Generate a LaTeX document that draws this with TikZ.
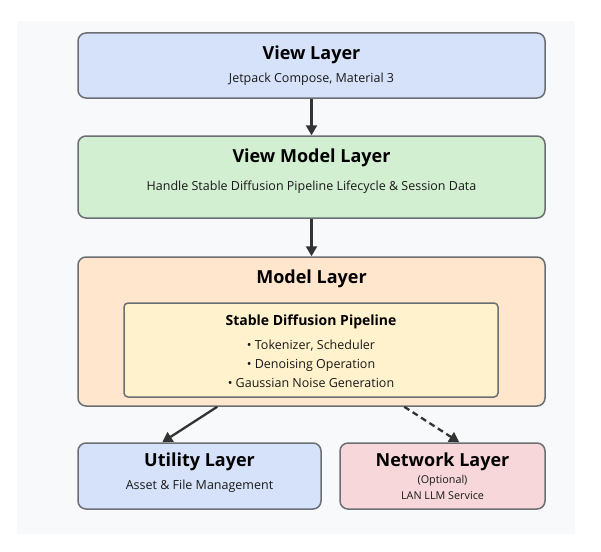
\documentclass[tikz,border=0pt]{standalone}
\usepackage{fontspec}
\setmainfont{Open Sans}
\usetikzlibrary{arrows.meta,calc}
\definecolor{bgc}{HTML}{F8F9FA}
\definecolor{bordc}{HTML}{6B6F73}
\definecolor{bluec}{HTML}{D6E2FA}
\definecolor{greenc}{HTML}{D2EFD2}
\definecolor{orangec}{HTML}{FFE6CC}
\definecolor{yellowc}{HTML}{FFF2CC}
\definecolor{redc}{HTML}{F8D7DA}
\definecolor{arrc}{HTML}{333333}
\tikzset{
  layerbox/.style={draw=bordc, line width=1.5pt, rounded corners=8pt, inner sep=0pt},
  innerbox/.style={draw=bordc, line width=1.5pt, rounded corners=4pt, inner sep=0pt},
  titletxt/.style={font=\fontsize{18}{21}\selectfont\bfseries, inner sep=0pt, text=black},
  subtitletxt/.style={font=\fontsize{14}{17}\selectfont\bfseries, inner sep=0pt, text=black},
  subtxt/.style={font=\fontsize{12.5}{15}\selectfont, inner sep=0pt, text=black!90},
  smalltxt/.style={font=\fontsize{10.8}{13}\selectfont, inner sep=0pt, text=black!90},
  conn/.style={draw=arrc, line width=2.3pt, -{Triangle[length=10pt,width=11pt]}},
  dconn/.style={conn, dash pattern=on 6pt off 4pt}
}
\begin{document}
\begin{tikzpicture}[x=1pt,y=-1pt]
\useasboundingbox (0,0) rectangle (601,551);
\fill[white] (0,0) rectangle (601,551);
\fill[bgc] (17,21) rectangle (575,534);
% boxes
\node[layerbox, fill=bluec, minimum width=467pt, minimum height=65pt] (view) at (311.5,65.5) {};
\node[layerbox, fill=greenc, minimum width=467pt, minimum height=82pt] (vm) at (311.5,177) {};
\node[layerbox, fill=orangec, minimum width=467pt, minimum height=149pt] (model) at (311.5,331.5) {};
\node[innerbox, fill=yellowc, minimum width=374pt, minimum height=94pt] (sdp) at (311,350) {};
\node[layerbox, fill=bluec, minimum width=243pt, minimum height=66pt] (util) at (199.5,476) {};
\node[layerbox, fill=redc, minimum width=205pt, minimum height=66pt] (net) at (442.5,476) {};
% texts
\node[titletxt] (viewt) at (311.5,55) {View Layer};
\node[subtxt] (views) at (311.5,79) {Jetpack Compose, Material 3};
\node[titletxt] (vmt) at (311.5,158) {View Model Layer};
\node[subtxt] (vms) at (311.5,187) {Handle Stable Diffusion Pipeline Lifecycle \& Session Data};
\node[titletxt] (modelt) at (311.5,279) {Model Layer};
\node[subtitletxt] (sdpt) at (311,322) {Stable Diffusion Pipeline};
\node[subtxt] (b1) at (311,346) {• Tokenizer, Scheduler};
\node[subtxt] (b2) at (311,365) {• Denoising Operation};
\node[subtxt] (b3) at (311,383) {• Gaussian Noise Generation};
\node[titletxt] (utilt) at (199.5,462) {Utility Layer};
\node[subtxt] (utils) at (199.5,486) {Asset \& File Management};
\node[titletxt] (nett) at (442.5,462) {Network Layer};
\node[smalltxt] (neto) at (442.5,481) {(Optional)};
\node[smalltxt] (netl) at (442.5,495.5) {LAN LLM Service};
% connectors
\draw[conn] (view.south) -- (vm.north);
\draw[conn] (vm.south) -- (model.north);
\draw[conn] ([xshift=140pt]model.south west) -- ([xshift=85pt]util.north west);
\draw[dconn] ([xshift=327pt]model.south west) -- ([xshift=120pt]net.north west);
\end{tikzpicture}
\end{document}
